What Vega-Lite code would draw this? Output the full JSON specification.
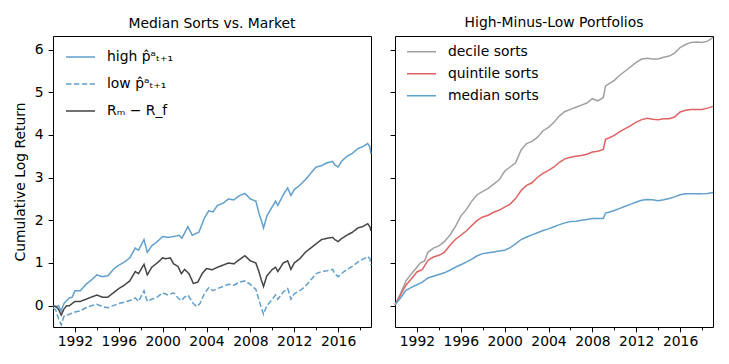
{
  "$schema": "https://vega.github.io/schema/vega-lite/v6.json",
  "padding": {"left": 12, "top": 15, "right": 0, "bottom": 0},
  "background": "white",
  "config": {
    "font": "DejaVu Sans",
    "view": {"stroke": "black", "strokeWidth": 1},
    "axis": {"grid": false, "domain": false, "tickColor": "black", "labelColor": "black", "labelFontSize": 13.9, "labelFont": "DejaVu Sans", "tickSize": 4.9, "labelPadding": 4.9, "titleFontSize": 13.9, "titleFont": "DejaVu Sans", "titleFontWeight": "normal", "titleColor": "black"},
    "axisX": {"labelPadding": 3},
    "title": {"fontSize": 13.9, "font": "DejaVu Sans", "fontWeight": "normal", "color": "black", "offset": 5, "baseline": "alphabetic"},
    "concat": {"spacing": 14}
  },
  "datasets": {
    "left": [
      {"t": 1990.0, "v": 0.0, "s": "high p̂ᵃₜ₊₁"}, {"t": 1990.25, "v": -0.03, "s": "high p̂ᵃₜ₊₁"}, {"t": 1990.5, "v": 0.0, "s": "high p̂ᵃₜ₊₁"}, {"t": 1990.75, "v": -0.12, "s": "high p̂ᵃₜ₊₁"}, {"t": 1991.0, "v": 0.05, "s": "high p̂ᵃₜ₊₁"}, {"t": 1991.25, "v": 0.12, "s": "high p̂ᵃₜ₊₁"}, {"t": 1991.5, "v": 0.18, "s": "high p̂ᵃₜ₊₁"}, {"t": 1991.75, "v": 0.2, "s": "high p̂ᵃₜ₊₁"}, {"t": 1992.0, "v": 0.35, "s": "high p̂ᵃₜ₊₁"}, {"t": 1992.5, "v": 0.35, "s": "high p̂ᵃₜ₊₁"}, {"t": 1993.0, "v": 0.5, "s": "high p̂ᵃₜ₊₁"}, {"t": 1993.5, "v": 0.6, "s": "high p̂ᵃₜ₊₁"}, {"t": 1994.0, "v": 0.72, "s": "high p̂ᵃₜ₊₁"}, {"t": 1994.5, "v": 0.68, "s": "high p̂ᵃₜ₊₁"}, {"t": 1995.0, "v": 0.7, "s": "high p̂ᵃₜ₊₁"}, {"t": 1995.5, "v": 0.85, "s": "high p̂ᵃₜ₊₁"}, {"t": 1996.0, "v": 0.95, "s": "high p̂ᵃₜ₊₁"}, {"t": 1996.5, "v": 1.02, "s": "high p̂ᵃₜ₊₁"}, {"t": 1997.0, "v": 1.12, "s": "high p̂ᵃₜ₊₁"}, {"t": 1997.5, "v": 1.35, "s": "high p̂ᵃₜ₊₁"}, {"t": 1997.8, "v": 1.3, "s": "high p̂ᵃₜ₊₁"}, {"t": 1998.3, "v": 1.55, "s": "high p̂ᵃₜ₊₁"}, {"t": 1998.6, "v": 1.25, "s": "high p̂ᵃₜ₊₁"}, {"t": 1999.0, "v": 1.4, "s": "high p̂ᵃₜ₊₁"}, {"t": 1999.5, "v": 1.5, "s": "high p̂ᵃₜ₊₁"}, {"t": 2000.0, "v": 1.62, "s": "high p̂ᵃₜ₊₁"}, {"t": 2000.5, "v": 1.6, "s": "high p̂ᵃₜ₊₁"}, {"t": 2001.0, "v": 1.62, "s": "high p̂ᵃₜ₊₁"}, {"t": 2001.5, "v": 1.65, "s": "high p̂ᵃₜ₊₁"}, {"t": 2001.75, "v": 1.58, "s": "high p̂ᵃₜ₊₁"}, {"t": 2002.3, "v": 1.85, "s": "high p̂ᵃₜ₊₁"}, {"t": 2002.7, "v": 1.65, "s": "high p̂ᵃₜ₊₁"}, {"t": 2003.1, "v": 1.7, "s": "high p̂ᵃₜ₊₁"}, {"t": 2003.3, "v": 1.72, "s": "high p̂ᵃₜ₊₁"}, {"t": 2003.8, "v": 2.05, "s": "high p̂ᵃₜ₊₁"}, {"t": 2004.2, "v": 2.22, "s": "high p̂ᵃₜ₊₁"}, {"t": 2004.6, "v": 2.2, "s": "high p̂ᵃₜ₊₁"}, {"t": 2005.0, "v": 2.35, "s": "high p̂ᵃₜ₊₁"}, {"t": 2005.5, "v": 2.4, "s": "high p̂ᵃₜ₊₁"}, {"t": 2006.0, "v": 2.5, "s": "high p̂ᵃₜ₊₁"}, {"t": 2006.5, "v": 2.48, "s": "high p̂ᵃₜ₊₁"}, {"t": 2007.0, "v": 2.58, "s": "high p̂ᵃₜ₊₁"}, {"t": 2007.5, "v": 2.63, "s": "high p̂ᵃₜ₊₁"}, {"t": 2008.0, "v": 2.5, "s": "high p̂ᵃₜ₊₁"}, {"t": 2008.5, "v": 2.45, "s": "high p̂ᵃₜ₊₁"}, {"t": 2008.8, "v": 2.15, "s": "high p̂ᵃₜ₊₁"}, {"t": 2009.0, "v": 2.0, "s": "high p̂ᵃₜ₊₁"}, {"t": 2009.2, "v": 1.82, "s": "high p̂ᵃₜ₊₁"}, {"t": 2009.5, "v": 2.1, "s": "high p̂ᵃₜ₊₁"}, {"t": 2010.0, "v": 2.32, "s": "high p̂ᵃₜ₊₁"}, {"t": 2010.3, "v": 2.45, "s": "high p̂ᵃₜ₊₁"}, {"t": 2010.5, "v": 2.35, "s": "high p̂ᵃₜ₊₁"}, {"t": 2011.0, "v": 2.6, "s": "high p̂ᵃₜ₊₁"}, {"t": 2011.4, "v": 2.76, "s": "high p̂ᵃₜ₊₁"}, {"t": 2011.7, "v": 2.58, "s": "high p̂ᵃₜ₊₁"}, {"t": 2012.0, "v": 2.72, "s": "high p̂ᵃₜ₊₁"}, {"t": 2012.5, "v": 2.82, "s": "high p̂ᵃₜ₊₁"}, {"t": 2013.0, "v": 2.95, "s": "high p̂ᵃₜ₊₁"}, {"t": 2013.5, "v": 3.1, "s": "high p̂ᵃₜ₊₁"}, {"t": 2014.0, "v": 3.25, "s": "high p̂ᵃₜ₊₁"}, {"t": 2014.5, "v": 3.28, "s": "high p̂ᵃₜ₊₁"}, {"t": 2015.0, "v": 3.35, "s": "high p̂ᵃₜ₊₁"}, {"t": 2015.5, "v": 3.38, "s": "high p̂ᵃₜ₊₁"}, {"t": 2015.7, "v": 3.3, "s": "high p̂ᵃₜ₊₁"}, {"t": 2016.0, "v": 3.25, "s": "high p̂ᵃₜ₊₁"}, {"t": 2016.3, "v": 3.38, "s": "high p̂ᵃₜ₊₁"}, {"t": 2016.8, "v": 3.5, "s": "high p̂ᵃₜ₊₁"}, {"t": 2017.3, "v": 3.57, "s": "high p̂ᵃₜ₊₁"}, {"t": 2017.8, "v": 3.68, "s": "high p̂ᵃₜ₊₁"}, {"t": 2018.2, "v": 3.72, "s": "high p̂ᵃₜ₊₁"}, {"t": 2018.7, "v": 3.8, "s": "high p̂ᵃₜ₊₁"}, {"t": 2018.9, "v": 3.72, "s": "high p̂ᵃₜ₊₁"}, {"t": 2019.0, "v": 3.55, "s": "high p̂ᵃₜ₊₁"},

      {"t": 1990.0, "v": -0.05, "s": "low p̂ᵃₜ₊₁"}, {"t": 1990.25, "v": -0.1, "s": "low p̂ᵃₜ₊₁"}, {"t": 1990.5, "v": -0.3, "s": "low p̂ᵃₜ₊₁"}, {"t": 1990.75, "v": -0.45, "s": "low p̂ᵃₜ₊₁"}, {"t": 1991.0, "v": -0.25, "s": "low p̂ᵃₜ₊₁"}, {"t": 1991.5, "v": -0.2, "s": "low p̂ᵃₜ₊₁"}, {"t": 1992.0, "v": -0.15, "s": "low p̂ᵃₜ₊₁"}, {"t": 1992.5, "v": -0.12, "s": "low p̂ᵃₜ₊₁"}, {"t": 1993.0, "v": -0.05, "s": "low p̂ᵃₜ₊₁"}, {"t": 1993.5, "v": 0.0, "s": "low p̂ᵃₜ₊₁"}, {"t": 1994.0, "v": 0.03, "s": "low p̂ᵃₜ₊₁"}, {"t": 1994.5, "v": -0.02, "s": "low p̂ᵃₜ₊₁"}, {"t": 1995.0, "v": -0.05, "s": "low p̂ᵃₜ₊₁"}, {"t": 1995.5, "v": 0.0, "s": "low p̂ᵃₜ₊₁"}, {"t": 1996.0, "v": 0.05, "s": "low p̂ᵃₜ₊₁"}, {"t": 1996.5, "v": 0.08, "s": "low p̂ᵃₜ₊₁"}, {"t": 1997.0, "v": 0.12, "s": "low p̂ᵃₜ₊₁"}, {"t": 1997.5, "v": 0.18, "s": "low p̂ᵃₜ₊₁"}, {"t": 1997.8, "v": 0.1, "s": "low p̂ᵃₜ₊₁"}, {"t": 1998.3, "v": 0.35, "s": "low p̂ᵃₜ₊₁"}, {"t": 1998.6, "v": 0.1, "s": "low p̂ᵃₜ₊₁"}, {"t": 1999.0, "v": 0.15, "s": "low p̂ᵃₜ₊₁"}, {"t": 1999.5, "v": 0.2, "s": "low p̂ᵃₜ₊₁"}, {"t": 2000.0, "v": 0.3, "s": "low p̂ᵃₜ₊₁"}, {"t": 2000.5, "v": 0.25, "s": "low p̂ᵃₜ₊₁"}, {"t": 2001.0, "v": 0.3, "s": "low p̂ᵃₜ₊₁"}, {"t": 2001.4, "v": 0.18, "s": "low p̂ᵃₜ₊₁"}, {"t": 2001.7, "v": 0.12, "s": "low p̂ᵃₜ₊₁"}, {"t": 2002.0, "v": 0.2, "s": "low p̂ᵃₜ₊₁"}, {"t": 2002.3, "v": 0.25, "s": "low p̂ᵃₜ₊₁"}, {"t": 2002.8, "v": 0.05, "s": "low p̂ᵃₜ₊₁"}, {"t": 2003.1, "v": -0.02, "s": "low p̂ᵃₜ₊₁"}, {"t": 2003.4, "v": 0.05, "s": "low p̂ᵃₜ₊₁"}, {"t": 2003.8, "v": 0.28, "s": "low p̂ᵃₜ₊₁"}, {"t": 2004.2, "v": 0.42, "s": "low p̂ᵃₜ₊₁"}, {"t": 2004.6, "v": 0.35, "s": "low p̂ᵃₜ₊₁"}, {"t": 2005.0, "v": 0.4, "s": "low p̂ᵃₜ₊₁"}, {"t": 2005.5, "v": 0.45, "s": "low p̂ᵃₜ₊₁"}, {"t": 2006.0, "v": 0.5, "s": "low p̂ᵃₜ₊₁"}, {"t": 2006.5, "v": 0.48, "s": "low p̂ᵃₜ₊₁"}, {"t": 2007.0, "v": 0.55, "s": "low p̂ᵃₜ₊₁"}, {"t": 2007.5, "v": 0.58, "s": "low p̂ᵃₜ₊₁"}, {"t": 2008.0, "v": 0.5, "s": "low p̂ᵃₜ₊₁"}, {"t": 2008.5, "v": 0.38, "s": "low p̂ᵃₜ₊₁"}, {"t": 2008.8, "v": 0.12, "s": "low p̂ᵃₜ₊₁"}, {"t": 2009.0, "v": -0.05, "s": "low p̂ᵃₜ₊₁"}, {"t": 2009.2, "v": -0.2, "s": "low p̂ᵃₜ₊₁"}, {"t": 2009.5, "v": 0.0, "s": "low p̂ᵃₜ₊₁"}, {"t": 2010.0, "v": 0.15, "s": "low p̂ᵃₜ₊₁"}, {"t": 2010.3, "v": 0.25, "s": "low p̂ᵃₜ₊₁"}, {"t": 2010.5, "v": 0.15, "s": "low p̂ᵃₜ₊₁"}, {"t": 2011.0, "v": 0.32, "s": "low p̂ᵃₜ₊₁"}, {"t": 2011.4, "v": 0.4, "s": "low p̂ᵃₜ₊₁"}, {"t": 2011.7, "v": 0.15, "s": "low p̂ᵃₜ₊₁"}, {"t": 2012.0, "v": 0.28, "s": "low p̂ᵃₜ₊₁"}, {"t": 2012.5, "v": 0.35, "s": "low p̂ᵃₜ₊₁"}, {"t": 2013.0, "v": 0.45, "s": "low p̂ᵃₜ₊₁"}, {"t": 2013.5, "v": 0.6, "s": "low p̂ᵃₜ₊₁"}, {"t": 2014.0, "v": 0.75, "s": "low p̂ᵃₜ₊₁"}, {"t": 2014.5, "v": 0.8, "s": "low p̂ᵃₜ₊₁"}, {"t": 2015.0, "v": 0.82, "s": "low p̂ᵃₜ₊₁"}, {"t": 2015.5, "v": 0.85, "s": "low p̂ᵃₜ₊₁"}, {"t": 2015.7, "v": 0.75, "s": "low p̂ᵃₜ₊₁"}, {"t": 2016.0, "v": 0.68, "s": "low p̂ᵃₜ₊₁"}, {"t": 2016.3, "v": 0.75, "s": "low p̂ᵃₜ₊₁"}, {"t": 2016.8, "v": 0.85, "s": "low p̂ᵃₜ₊₁"}, {"t": 2017.3, "v": 0.92, "s": "low p̂ᵃₜ₊₁"}, {"t": 2017.8, "v": 1.02, "s": "low p̂ᵃₜ₊₁"}, {"t": 2018.2, "v": 1.08, "s": "low p̂ᵃₜ₊₁"}, {"t": 2018.7, "v": 1.15, "s": "low p̂ᵃₜ₊₁"}, {"t": 2018.9, "v": 1.1, "s": "low p̂ᵃₜ₊₁"}, {"t": 2019.0, "v": 0.95, "s": "low p̂ᵃₜ₊₁"},

      {"t": 1990.0, "v": 0.0, "s": "Rₘ − R_f"}, {"t": 1990.25, "v": -0.02, "s": "Rₘ − R_f"}, {"t": 1990.5, "v": -0.08, "s": "Rₘ − R_f"}, {"t": 1990.75, "v": -0.22, "s": "Rₘ − R_f"}, {"t": 1991.0, "v": -0.08, "s": "Rₘ − R_f"}, {"t": 1991.25, "v": 0.0, "s": "Rₘ − R_f"}, {"t": 1991.5, "v": 0.0, "s": "Rₘ − R_f"}, {"t": 1992.0, "v": 0.1, "s": "Rₘ − R_f"}, {"t": 1992.5, "v": 0.1, "s": "Rₘ − R_f"}, {"t": 1993.0, "v": 0.15, "s": "Rₘ − R_f"}, {"t": 1993.5, "v": 0.2, "s": "Rₘ − R_f"}, {"t": 1994.0, "v": 0.25, "s": "Rₘ − R_f"}, {"t": 1994.5, "v": 0.2, "s": "Rₘ − R_f"}, {"t": 1995.0, "v": 0.2, "s": "Rₘ − R_f"}, {"t": 1995.5, "v": 0.3, "s": "Rₘ − R_f"}, {"t": 1996.0, "v": 0.4, "s": "Rₘ − R_f"}, {"t": 1996.5, "v": 0.48, "s": "Rₘ − R_f"}, {"t": 1997.0, "v": 0.58, "s": "Rₘ − R_f"}, {"t": 1997.5, "v": 0.8, "s": "Rₘ − R_f"}, {"t": 1997.8, "v": 0.75, "s": "Rₘ − R_f"}, {"t": 1998.3, "v": 0.97, "s": "Rₘ − R_f"}, {"t": 1998.6, "v": 0.72, "s": "Rₘ − R_f"}, {"t": 1999.0, "v": 0.9, "s": "Rₘ − R_f"}, {"t": 1999.5, "v": 1.0, "s": "Rₘ − R_f"}, {"t": 2000.0, "v": 1.12, "s": "Rₘ − R_f"}, {"t": 2000.3, "v": 1.1, "s": "Rₘ − R_f"}, {"t": 2000.7, "v": 1.12, "s": "Rₘ − R_f"}, {"t": 2001.0, "v": 0.98, "s": "Rₘ − R_f"}, {"t": 2001.4, "v": 0.92, "s": "Rₘ − R_f"}, {"t": 2001.7, "v": 0.75, "s": "Rₘ − R_f"}, {"t": 2002.0, "v": 0.85, "s": "Rₘ − R_f"}, {"t": 2002.4, "v": 0.75, "s": "Rₘ − R_f"}, {"t": 2002.8, "v": 0.52, "s": "Rₘ − R_f"}, {"t": 2003.2, "v": 0.55, "s": "Rₘ − R_f"}, {"t": 2003.6, "v": 0.75, "s": "Rₘ − R_f"}, {"t": 2004.0, "v": 0.87, "s": "Rₘ − R_f"}, {"t": 2004.5, "v": 0.84, "s": "Rₘ − R_f"}, {"t": 2005.0, "v": 0.9, "s": "Rₘ − R_f"}, {"t": 2005.5, "v": 0.95, "s": "Rₘ − R_f"}, {"t": 2006.0, "v": 1.0, "s": "Rₘ − R_f"}, {"t": 2006.5, "v": 0.98, "s": "Rₘ − R_f"}, {"t": 2007.0, "v": 1.08, "s": "Rₘ − R_f"}, {"t": 2007.5, "v": 1.17, "s": "Rₘ − R_f"}, {"t": 2008.0, "v": 1.05, "s": "Rₘ − R_f"}, {"t": 2008.5, "v": 1.0, "s": "Rₘ − R_f"}, {"t": 2008.8, "v": 0.78, "s": "Rₘ − R_f"}, {"t": 2009.0, "v": 0.6, "s": "Rₘ − R_f"}, {"t": 2009.2, "v": 0.45, "s": "Rₘ − R_f"}, {"t": 2009.5, "v": 0.7, "s": "Rₘ − R_f"}, {"t": 2010.0, "v": 0.85, "s": "Rₘ − R_f"}, {"t": 2010.3, "v": 0.9, "s": "Rₘ − R_f"}, {"t": 2010.5, "v": 0.8, "s": "Rₘ − R_f"}, {"t": 2011.0, "v": 1.0, "s": "Rₘ − R_f"}, {"t": 2011.4, "v": 1.05, "s": "Rₘ − R_f"}, {"t": 2011.7, "v": 0.85, "s": "Rₘ − R_f"}, {"t": 2012.0, "v": 1.0, "s": "Rₘ − R_f"}, {"t": 2012.5, "v": 1.1, "s": "Rₘ − R_f"}, {"t": 2013.0, "v": 1.25, "s": "Rₘ − R_f"}, {"t": 2013.5, "v": 1.35, "s": "Rₘ − R_f"}, {"t": 2014.0, "v": 1.45, "s": "Rₘ − R_f"}, {"t": 2014.5, "v": 1.55, "s": "Rₘ − R_f"}, {"t": 2015.0, "v": 1.58, "s": "Rₘ − R_f"}, {"t": 2015.5, "v": 1.6, "s": "Rₘ − R_f"}, {"t": 2015.7, "v": 1.55, "s": "Rₘ − R_f"}, {"t": 2016.0, "v": 1.5, "s": "Rₘ − R_f"}, {"t": 2016.3, "v": 1.57, "s": "Rₘ − R_f"}, {"t": 2016.8, "v": 1.65, "s": "Rₘ − R_f"}, {"t": 2017.3, "v": 1.72, "s": "Rₘ − R_f"}, {"t": 2017.8, "v": 1.82, "s": "Rₘ − R_f"}, {"t": 2018.2, "v": 1.85, "s": "Rₘ − R_f"}, {"t": 2018.7, "v": 1.92, "s": "Rₘ − R_f"}, {"t": 2018.9, "v": 1.85, "s": "Rₘ − R_f"}, {"t": 2019.0, "v": 1.75, "s": "Rₘ − R_f"}
    ],
    "right": [
      {"t": 1990.0, "v": 0.02, "s": "decile sorts"}, {"t": 1990.5, "v": 0.28, "s": "decile sorts"}, {"t": 1991.0, "v": 0.58, "s": "decile sorts"}, {"t": 1991.5, "v": 0.75, "s": "decile sorts"}, {"t": 1992.0, "v": 0.9, "s": "decile sorts"}, {"t": 1992.3, "v": 1.0, "s": "decile sorts"}, {"t": 1992.7, "v": 1.05, "s": "decile sorts"}, {"t": 1993.0, "v": 1.25, "s": "decile sorts"}, {"t": 1993.5, "v": 1.35, "s": "decile sorts"}, {"t": 1994.0, "v": 1.4, "s": "decile sorts"}, {"t": 1994.5, "v": 1.5, "s": "decile sorts"}, {"t": 1995.0, "v": 1.65, "s": "decile sorts"}, {"t": 1995.5, "v": 1.85, "s": "decile sorts"}, {"t": 1996.0, "v": 2.1, "s": "decile sorts"}, {"t": 1996.5, "v": 2.25, "s": "decile sorts"}, {"t": 1997.0, "v": 2.45, "s": "decile sorts"}, {"t": 1997.5, "v": 2.6, "s": "decile sorts"}, {"t": 1998.0, "v": 2.68, "s": "decile sorts"}, {"t": 1998.5, "v": 2.75, "s": "decile sorts"}, {"t": 1999.0, "v": 2.85, "s": "decile sorts"}, {"t": 1999.5, "v": 2.95, "s": "decile sorts"}, {"t": 2000.0, "v": 3.15, "s": "decile sorts"}, {"t": 2000.5, "v": 3.25, "s": "decile sorts"}, {"t": 2001.0, "v": 3.35, "s": "decile sorts"}, {"t": 2001.5, "v": 3.65, "s": "decile sorts"}, {"t": 2002.0, "v": 3.8, "s": "decile sorts"}, {"t": 2002.5, "v": 3.85, "s": "decile sorts"}, {"t": 2003.0, "v": 3.95, "s": "decile sorts"}, {"t": 2003.5, "v": 4.1, "s": "decile sorts"}, {"t": 2004.0, "v": 4.18, "s": "decile sorts"}, {"t": 2004.5, "v": 4.3, "s": "decile sorts"}, {"t": 2005.0, "v": 4.45, "s": "decile sorts"}, {"t": 2005.5, "v": 4.55, "s": "decile sorts"}, {"t": 2006.0, "v": 4.6, "s": "decile sorts"}, {"t": 2006.5, "v": 4.65, "s": "decile sorts"}, {"t": 2007.0, "v": 4.7, "s": "decile sorts"}, {"t": 2007.5, "v": 4.75, "s": "decile sorts"}, {"t": 2008.0, "v": 4.85, "s": "decile sorts"}, {"t": 2008.5, "v": 4.8, "s": "decile sorts"}, {"t": 2009.0, "v": 4.88, "s": "decile sorts"}, {"t": 2009.2, "v": 5.15, "s": "decile sorts"}, {"t": 2009.5, "v": 5.2, "s": "decile sorts"}, {"t": 2010.0, "v": 5.28, "s": "decile sorts"}, {"t": 2010.5, "v": 5.4, "s": "decile sorts"}, {"t": 2011.0, "v": 5.5, "s": "decile sorts"}, {"t": 2011.5, "v": 5.6, "s": "decile sorts"}, {"t": 2012.0, "v": 5.7, "s": "decile sorts"}, {"t": 2012.5, "v": 5.78, "s": "decile sorts"}, {"t": 2013.0, "v": 5.8, "s": "decile sorts"}, {"t": 2013.5, "v": 5.78, "s": "decile sorts"}, {"t": 2014.0, "v": 5.78, "s": "decile sorts"}, {"t": 2014.5, "v": 5.82, "s": "decile sorts"}, {"t": 2015.0, "v": 5.85, "s": "decile sorts"}, {"t": 2015.5, "v": 5.92, "s": "decile sorts"}, {"t": 2016.0, "v": 6.05, "s": "decile sorts"}, {"t": 2016.5, "v": 6.12, "s": "decile sorts"}, {"t": 2017.0, "v": 6.17, "s": "decile sorts"}, {"t": 2017.5, "v": 6.18, "s": "decile sorts"}, {"t": 2018.0, "v": 6.17, "s": "decile sorts"}, {"t": 2018.5, "v": 6.2, "s": "decile sorts"}, {"t": 2019.0, "v": 6.28, "s": "decile sorts"},

      {"t": 1990.0, "v": 0.02, "s": "quintile sorts"}, {"t": 1990.5, "v": 0.25, "s": "quintile sorts"}, {"t": 1991.0, "v": 0.48, "s": "quintile sorts"}, {"t": 1991.5, "v": 0.63, "s": "quintile sorts"}, {"t": 1992.0, "v": 0.79, "s": "quintile sorts"}, {"t": 1992.5, "v": 0.85, "s": "quintile sorts"}, {"t": 1993.0, "v": 1.06, "s": "quintile sorts"}, {"t": 1993.5, "v": 1.14, "s": "quintile sorts"}, {"t": 1994.0, "v": 1.18, "s": "quintile sorts"}, {"t": 1994.5, "v": 1.25, "s": "quintile sorts"}, {"t": 1995.0, "v": 1.41, "s": "quintile sorts"}, {"t": 1995.5, "v": 1.55, "s": "quintile sorts"}, {"t": 1996.0, "v": 1.65, "s": "quintile sorts"}, {"t": 1996.5, "v": 1.75, "s": "quintile sorts"}, {"t": 1997.0, "v": 1.88, "s": "quintile sorts"}, {"t": 1997.5, "v": 2.0, "s": "quintile sorts"}, {"t": 1998.0, "v": 2.08, "s": "quintile sorts"}, {"t": 1998.5, "v": 2.12, "s": "quintile sorts"}, {"t": 1999.0, "v": 2.19, "s": "quintile sorts"}, {"t": 1999.5, "v": 2.24, "s": "quintile sorts"}, {"t": 2000.0, "v": 2.31, "s": "quintile sorts"}, {"t": 2000.5, "v": 2.38, "s": "quintile sorts"}, {"t": 2001.0, "v": 2.51, "s": "quintile sorts"}, {"t": 2001.5, "v": 2.7, "s": "quintile sorts"}, {"t": 2002.0, "v": 2.82, "s": "quintile sorts"}, {"t": 2002.5, "v": 2.88, "s": "quintile sorts"}, {"t": 2003.0, "v": 3.01, "s": "quintile sorts"}, {"t": 2003.5, "v": 3.1, "s": "quintile sorts"}, {"t": 2004.0, "v": 3.17, "s": "quintile sorts"}, {"t": 2004.5, "v": 3.25, "s": "quintile sorts"}, {"t": 2005.0, "v": 3.36, "s": "quintile sorts"}, {"t": 2005.5, "v": 3.44, "s": "quintile sorts"}, {"t": 2006.0, "v": 3.48, "s": "quintile sorts"}, {"t": 2006.5, "v": 3.5, "s": "quintile sorts"}, {"t": 2007.0, "v": 3.52, "s": "quintile sorts"}, {"t": 2007.5, "v": 3.55, "s": "quintile sorts"}, {"t": 2008.0, "v": 3.6, "s": "quintile sorts"}, {"t": 2008.5, "v": 3.62, "s": "quintile sorts"}, {"t": 2009.0, "v": 3.66, "s": "quintile sorts"}, {"t": 2009.2, "v": 3.9, "s": "quintile sorts"}, {"t": 2009.5, "v": 3.93, "s": "quintile sorts"}, {"t": 2010.0, "v": 3.99, "s": "quintile sorts"}, {"t": 2010.5, "v": 4.08, "s": "quintile sorts"}, {"t": 2011.0, "v": 4.15, "s": "quintile sorts"}, {"t": 2011.5, "v": 4.22, "s": "quintile sorts"}, {"t": 2012.0, "v": 4.3, "s": "quintile sorts"}, {"t": 2012.5, "v": 4.36, "s": "quintile sorts"}, {"t": 2013.0, "v": 4.39, "s": "quintile sorts"}, {"t": 2013.5, "v": 4.37, "s": "quintile sorts"}, {"t": 2014.0, "v": 4.36, "s": "quintile sorts"}, {"t": 2014.5, "v": 4.38, "s": "quintile sorts"}, {"t": 2015.0, "v": 4.38, "s": "quintile sorts"}, {"t": 2015.5, "v": 4.42, "s": "quintile sorts"}, {"t": 2016.0, "v": 4.54, "s": "quintile sorts"}, {"t": 2016.5, "v": 4.58, "s": "quintile sorts"}, {"t": 2017.0, "v": 4.6, "s": "quintile sorts"}, {"t": 2017.5, "v": 4.6, "s": "quintile sorts"}, {"t": 2018.0, "v": 4.6, "s": "quintile sorts"}, {"t": 2018.5, "v": 4.63, "s": "quintile sorts"}, {"t": 2019.0, "v": 4.67, "s": "quintile sorts"},

      {"t": 1990.0, "v": 0.02, "s": "median sorts"}, {"t": 1990.5, "v": 0.18, "s": "median sorts"}, {"t": 1991.0, "v": 0.36, "s": "median sorts"}, {"t": 1991.5, "v": 0.43, "s": "median sorts"}, {"t": 1992.0, "v": 0.49, "s": "median sorts"}, {"t": 1992.5, "v": 0.55, "s": "median sorts"}, {"t": 1993.0, "v": 0.65, "s": "median sorts"}, {"t": 1993.5, "v": 0.69, "s": "median sorts"}, {"t": 1994.0, "v": 0.73, "s": "median sorts"}, {"t": 1994.5, "v": 0.77, "s": "median sorts"}, {"t": 1995.0, "v": 0.83, "s": "median sorts"}, {"t": 1995.5, "v": 0.9, "s": "median sorts"}, {"t": 1996.0, "v": 0.96, "s": "median sorts"}, {"t": 1996.5, "v": 1.02, "s": "median sorts"}, {"t": 1997.0, "v": 1.09, "s": "median sorts"}, {"t": 1997.5, "v": 1.17, "s": "median sorts"}, {"t": 1998.0, "v": 1.22, "s": "median sorts"}, {"t": 1998.5, "v": 1.24, "s": "median sorts"}, {"t": 1999.0, "v": 1.26, "s": "median sorts"}, {"t": 1999.5, "v": 1.28, "s": "median sorts"}, {"t": 2000.0, "v": 1.3, "s": "median sorts"}, {"t": 2000.5, "v": 1.36, "s": "median sorts"}, {"t": 2001.0, "v": 1.45, "s": "median sorts"}, {"t": 2001.5, "v": 1.55, "s": "median sorts"}, {"t": 2002.0, "v": 1.61, "s": "median sorts"}, {"t": 2002.5, "v": 1.66, "s": "median sorts"}, {"t": 2003.0, "v": 1.71, "s": "median sorts"}, {"t": 2003.5, "v": 1.76, "s": "median sorts"}, {"t": 2004.0, "v": 1.8, "s": "median sorts"}, {"t": 2004.5, "v": 1.85, "s": "median sorts"}, {"t": 2005.0, "v": 1.9, "s": "median sorts"}, {"t": 2005.5, "v": 1.94, "s": "median sorts"}, {"t": 2006.0, "v": 1.97, "s": "median sorts"}, {"t": 2006.5, "v": 1.98, "s": "median sorts"}, {"t": 2007.0, "v": 2.0, "s": "median sorts"}, {"t": 2007.5, "v": 2.02, "s": "median sorts"}, {"t": 2008.0, "v": 2.04, "s": "median sorts"}, {"t": 2008.5, "v": 2.04, "s": "median sorts"}, {"t": 2009.0, "v": 2.04, "s": "median sorts"}, {"t": 2009.2, "v": 2.17, "s": "median sorts"}, {"t": 2009.5, "v": 2.19, "s": "median sorts"}, {"t": 2010.0, "v": 2.23, "s": "median sorts"}, {"t": 2010.5, "v": 2.28, "s": "median sorts"}, {"t": 2011.0, "v": 2.33, "s": "median sorts"}, {"t": 2011.5, "v": 2.38, "s": "median sorts"}, {"t": 2012.0, "v": 2.43, "s": "median sorts"}, {"t": 2012.5, "v": 2.47, "s": "median sorts"}, {"t": 2013.0, "v": 2.49, "s": "median sorts"}, {"t": 2013.5, "v": 2.48, "s": "median sorts"}, {"t": 2014.0, "v": 2.46, "s": "median sorts"}, {"t": 2014.5, "v": 2.48, "s": "median sorts"}, {"t": 2015.0, "v": 2.51, "s": "median sorts"}, {"t": 2015.5, "v": 2.55, "s": "median sorts"}, {"t": 2016.0, "v": 2.6, "s": "median sorts"}, {"t": 2016.5, "v": 2.62, "s": "median sorts"}, {"t": 2017.0, "v": 2.62, "s": "median sorts"}, {"t": 2017.5, "v": 2.62, "s": "median sorts"}, {"t": 2018.0, "v": 2.62, "s": "median sorts"}, {"t": 2018.5, "v": 2.63, "s": "median sorts"}, {"t": 2019.0, "v": 2.65, "s": "median sorts"}
    ]
  },
  "hconcat": [
    {
      "title": "Median Sorts vs. Market",
      "width": 318,
      "height": 291,
      "data": {"name": "left"},
      "mark": {"type": "line", "strokeWidth": 1.5},
      "encoding": {
        "x": {"field": "t", "type": "quantitative", "scale": {"domain": [1990, 2019], "nice": false, "zero": false},
              "axis": {"title": null, "values": [1992, 1994, 1996, 1998, 2000, 2002, 2004, 2006, 2008, 2010, 2012, 2014, 2016, 2018], "format": "d", "labelExpr": "datum.value % 4 == 0 ? datum.label : ''", "tickSize": {"expr": "datum.value % 4 == 0 ? 4.9 : 2.8"}}},
        "y": {"field": "v", "type": "quantitative", "scale": {"domain": [-0.5, 6.32], "nice": false, "zero": false},
              "axis": {"title": "Cumulative Log Return", "values": [0, 1, 2, 3, 4, 5, 6], "titlePadding": 7}},
        "color": {"field": "s", "type": "nominal",
                  "scale": {"domain": ["high p̂ᵃₜ₊₁", "low p̂ᵃₜ₊₁", "Rₘ − R_f"], "range": ["#61a0cd", "#61a0cd", "#444444"]},
                  "legend": {"title": null, "orient": "none", "legendX": 12, "legendY": 7.7, "symbolType": "stroke", "symbolSize": 841, "symbolStrokeWidth": 1.5, "labelFontSize": 13.9, "labelColor": "black", "labelOffset": 11, "rowPadding": 0, "clipHeight": 26.8, "padding": 0}},
        "strokeDash": {"field": "s", "type": "nominal",
                  "scale": {"domain": ["high p̂ᵃₜ₊₁", "low p̂ᵃₜ₊₁", "Rₘ − R_f"], "range": [[1, 0], [5.5, 2.4], [1, 0]]},
                  "legend": {"title": null, "orient": "none", "legendX": 12, "legendY": 7.7, "symbolType": "stroke", "symbolSize": 841, "symbolStrokeWidth": 1.5, "labelFontSize": 13.9, "labelColor": "black", "labelOffset": 11, "rowPadding": 0, "clipHeight": 26.8, "padding": 0}}
      }
    },
    {
      "title": "High-Minus-Low Portfolios",
      "width": 318,
      "height": 291,
      "data": {"name": "right"},
      "mark": {"type": "line", "strokeWidth": 1.5},
      "encoding": {
        "x": {"field": "t", "type": "quantitative", "scale": {"domain": [1990, 2019], "nice": false, "zero": false},
              "axis": {"title": null, "values": [1992, 1994, 1996, 1998, 2000, 2002, 2004, 2006, 2008, 2010, 2012, 2014, 2016, 2018], "format": "d", "labelExpr": "datum.value % 4 == 0 ? datum.label : ''", "tickSize": {"expr": "datum.value % 4 == 0 ? 4.9 : 2.8"}}},
        "y": {"field": "v", "type": "quantitative", "scale": {"domain": [-0.5, 6.32], "nice": false, "zero": false},
              "axis": {"title": null, "values": [0, 1, 2, 3, 4, 5, 6], "labels": false}},
        "color": {"field": "s", "type": "nominal",
                  "scale": {"domain": ["decile sorts", "quintile sorts", "median sorts"], "range": ["#a0a0a0", "#e06262", "#61a0cd"]},
                  "legend": {"title": null, "orient": "none", "legendX": 11, "legendY": 5, "symbolType": "stroke", "symbolSize": 841, "symbolStrokeWidth": 1.5, "labelFontSize": 13.9, "labelColor": "black", "labelOffset": 11, "rowPadding": 0, "clipHeight": 21.3, "padding": 0}}
      }
    }
  ],
  "resolve": {"scale": {"color": "independent", "strokeDash": "independent"}, "legend": {"color": "independent", "strokeDash": "independent"}}
}
